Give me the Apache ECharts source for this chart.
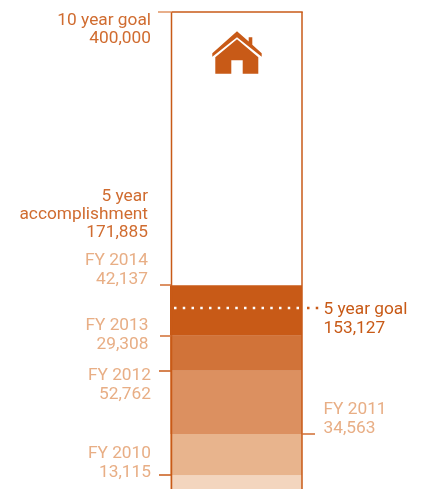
<!DOCTYPE html>
<html>
<head>
<meta charset="utf-8">
<style>
  html, body { margin: 0; padding: 0; background: #fff; overflow: hidden; }
  #chart { width: 422px; height: 489px; }
</style>
<script src="https://cdn.jsdelivr.net/npm/echarts@6/dist/echarts.min.js"></script>
</head>
<body>
<div id="chart"></div>
<script>
// Housing units by fiscal year, stacked from the bottom up towards the ten year goal.
const years = ['FY 2010', 'FY 2011', 'FY 2012', 'FY 2013', 'FY 2014'];
const units = [13115, 34563, 52762, 29308, 42137];
const shades = ['#F3D5BE', '#E8B48D', '#DC9060', '#D17339', '#C85A17'];
const tenYearGoal = 400000;
const fiveYearGoal = 153127;
const fiveYearTotal = 171885;

const INK = '#C85A17';
const MID = '#D06C30';
const PALE = '#E8AE85';

const chart = echarts.init(document.getElementById('chart'), null, { renderer: 'canvas' });

chart.setOption({
  backgroundColor: '#fff',
  animation: false,
  // The plot deliberately runs past the lower page edge, so it is not fitted to the canvas.
  grid: { left: 170, top: 12, width: 132, height: 479, show: false, outerBoundsMode: 'none' },
  xAxis: { type: 'category', data: ['units'], show: false },
  yAxis: { type: 'value', min: 0, max: tenYearGoal, show: false },
  series: years.map((name, i) => ({
    name,
    type: 'bar',
    stack: 'total',
    barWidth: '100%',
    data: [units[i]],
    itemStyle: { color: shades[i] },
    silent: true
  }))
});

// Running totals give the height of each boundary between years.
const tops = [];
units.reduce((sum, v, i) => (tops[i] = sum + v), 0);

const yOf = v => chart.convertToPixel({ yAxisIndex: 0 }, v);
const LEFT = 171.5;
const RIGHT = 302;

const rule = (x1, x2, v, color, extra) => ({
  type: 'line',
  z: 5,
  shape: { x1, x2, y1: Math.round(yOf(v)), y2: Math.round(yOf(v)) },
  style: Object.assign({ stroke: color, lineWidth: 1.5 }, extra)
});

const text = (str, x, v, dy, align, color) => ({
  type: 'text',
  z: 6,
  x,
  y: yOf(v) + dy,
  style: {
    text: str,
    fill: color,
    font: '400 17.3px Roboto',
    align,
    verticalAlign: 'middle'
  }
});

// Outer frame of the thermometer; it runs off the lower edge of the page.
const frame = [
  { type: 'line', z: 5, shape: { x1: LEFT, x2: LEFT, y1: yOf(tenYearGoal), y2: yOf(0) }, style: { stroke: INK, lineWidth: 1.5 } },
  { type: 'line', z: 5, shape: { x1: RIGHT, x2: RIGHT, y1: yOf(tenYearGoal), y2: yOf(0) }, style: { stroke: INK, lineWidth: 1.5 } },
  rule(LEFT, RIGHT + 0.75, tenYearGoal, INK),
  rule(158, LEFT, tenYearGoal, '#E09565')
];

const ticks = [
  rule(160, LEFT, tops[4], MID),
  rule(160, LEFT, tops[3], MID),
  rule(159, LEFT, tops[2], INK),
  rule(RIGHT, 315, tops[1], MID),
  rule(159, LEFT, tops[0], INK)
];

// Five year goal marker: white dots across the bar, orange dots past its edge.
const dots = { lineDash: [2.5, 6.25], lineWidth: 2.5 };
const goalMarker = [
  Object.assign(rule(174, 300, fiveYearGoal, '#fff', dots), { z: 7 }),
  rule(307, 320, fiveYearGoal, INK, dots)
];

const fmt = n => n.toLocaleString('en-US');

const labels = [
  text('10 year goal', 151, tenYearGoal, 8.5, 'right', MID),
  text(fmt(tenYearGoal), 151, tenYearGoal, 27, 'right', MID),
  text('5 year', 148, fiveYearTotal, -88, 'right', MID),
  text('accomplishment', 148, fiveYearTotal, -70.5, 'right', MID),
  text(fmt(fiveYearTotal), 148, fiveYearTotal, -52, 'right', MID),
  text(years[4], 148, tops[4], -24.5, 'right', PALE),
  text(fmt(units[4]), 148, tops[4], -5.5, 'right', PALE),
  text(years[3], 148.5, tops[3], -10, 'right', PALE),
  text(fmt(units[3]), 148.5, tops[3], 9, 'right', PALE),
  text(years[2], 151, tops[2], 5, 'right', PALE),
  text(fmt(units[2]), 151, tops[2], 24, 'right', PALE),
  text(years[0], 151, tops[0], -21.5, 'right', PALE),
  text(fmt(units[0]), 151, tops[0], -2.5, 'right', PALE),
  text(years[1], 323.5, tops[1], -24.5, 'left', PALE),
  text(fmt(units[1]), 323.5, tops[1], -5.5, 'left', PALE),
  text('5 year goal', 323.5, fiveYearGoal, 2, 'left', INK),
  text(fmt(fiveYearGoal), 323.5, fiveYearGoal, 21, 'left', INK)
];

// House icon inside the open part of the thermometer: roof with chimney, then walls with a door.
const house = [
  {
    type: 'polygon',
    z: 6,
    shape: {
      points: [
        [237, 31.3], [248.7, 41.6], [248.7, 37.3], [252.3, 37.3], [252.3, 44.8],
        [261.7, 53.2], [261.7, 56.7], [237, 37.3], [212.3, 56.7], [212.3, 53.2]
      ]
    },
    style: { fill: INK }
  },
  {
    type: 'polygon',
    z: 6,
    shape: {
      points: [
        [237, 39.3], [258.3, 57.3], [258.3, 73.7], [242.7, 73.7], [242.7, 60.3],
        [231.3, 60.3], [231.3, 73.7], [215.3, 73.7], [215.3, 57.3]
      ]
    },
    style: { fill: INK }
  }
];

chart.setOption({ graphic: { elements: [...frame, ...ticks, ...goalMarker, ...labels, ...house] } });
</script>
</body>
</html>
